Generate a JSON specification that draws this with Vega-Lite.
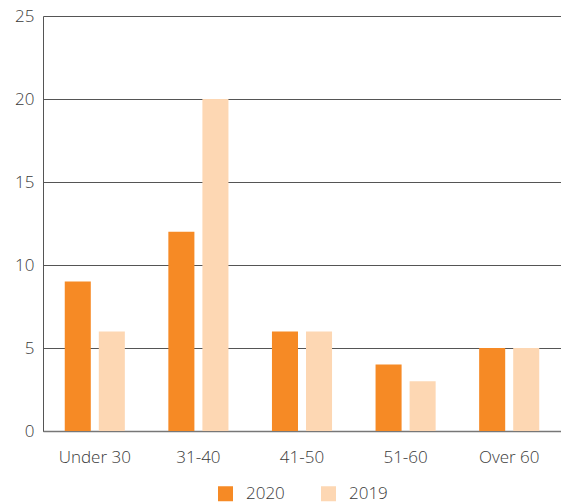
{
  "$schema": "https://vega.github.io/schema/vega-lite/v6.json",
  "width": 561,
  "height": 503,
  "autosize": {"type": "fit", "contains": "padding"},
  "padding": {"left": 14, "top": 7, "right": 0, "bottom": 1},
  "background": "white",
  "data": {
    "values": [
      {"group": "Under 30", "year": "2020", "value": 9},
      {"group": "Under 30", "year": "2019", "value": 6},
      {"group": "31-40", "year": "2020", "value": 12},
      {"group": "31-40", "year": "2019", "value": 20},
      {"group": "41-50", "year": "2020", "value": 6},
      {"group": "41-50", "year": "2019", "value": 6},
      {"group": "51-60", "year": "2020", "value": 4},
      {"group": "51-60", "year": "2019", "value": 3},
      {"group": "Over 60", "year": "2020", "value": 5},
      {"group": "Over 60", "year": "2019", "value": 5}
    ]
  },
  "mark": {"type": "bar"},
  "encoding": {
    "x": {
      "field": "group",
      "type": "nominal",
      "sort": ["Under 30", "31-40", "41-50", "51-60", "Over 60"],
      "scale": {"paddingInner": 0.42, "paddingOuter": 0.21},
      "axis": {
        "title": null,
        "labelAngle": 0,
        "ticks": false,
        "domainColor": "#777",
        "domainWidth": 1.5,
        "labelFont": "Open Sans",
        "labelFontSize": 17,
        "labelFontWeight": 300,
        "labelColor": "#3a3a3a",
        "labelPadding": 18
      }
    },
    "xOffset": {
      "field": "year",
      "type": "nominal",
      "sort": ["2020", "2019"],
      "scale": {"paddingInner": 0.235, "paddingOuter": 0}
    },
    "y": {
      "field": "value",
      "type": "quantitative",
      "scale": {"domain": [0, 25], "nice": false},
      "axis": {
        "title": null,
        "values": [0, 5, 10, 15, 20, 25],
        "ticks": false,
        "domainColor": "#555",
        "domainWidth": 1,
        "gridColor": "#555",
        "gridWidth": 1,
        "gridOpacity": 1,
        "labelFont": "Open Sans",
        "labelFontSize": 17,
        "labelFontWeight": 300,
        "labelColor": "#3a3a3a",
        "labelPadding": 9
      }
    },
    "color": {
      "field": "year",
      "type": "nominal",
      "sort": ["2020", "2019"],
      "scale": {"domain": ["2020", "2019"], "range": ["#F68A25", "#FDD7B3"]},
      "legend": {
        "title": null,
        "orient": "bottom",
        "direction": "horizontal",
        "symbolType": "square",
        "symbolSize": 225,
        "symbolStrokeWidth": 0,
        "labelFont": "Open Sans",
        "labelFontSize": 17,
        "labelFontWeight": 300,
        "labelColor": "#3a3a3a",
        "labelOffset": 12,
        "columnPadding": 35,
        "offset": 20
      }
    }
  },
  "config": {
    "view": {"stroke": null},
    "legend": {"layout": {"bottom": {"anchor": "middle"}}}
  }
}
